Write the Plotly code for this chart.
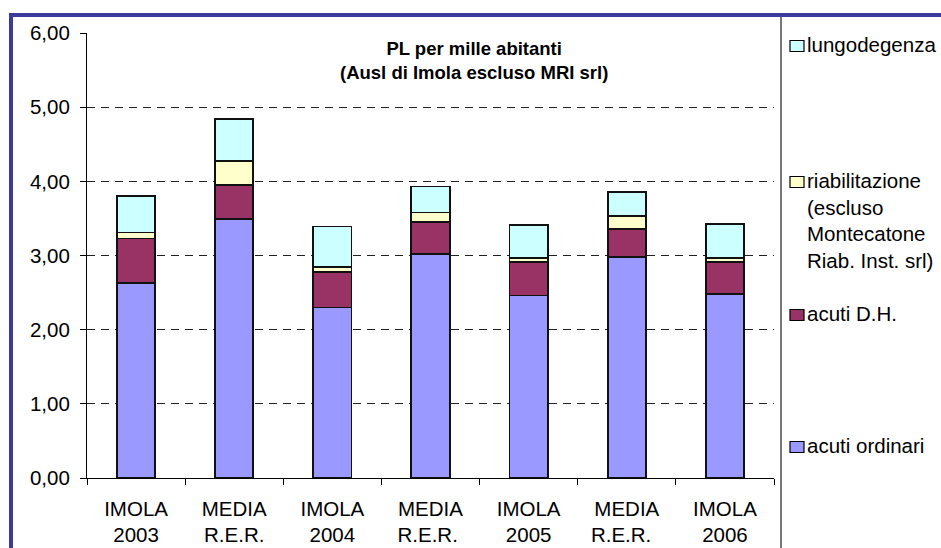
import plotly.graph_objects as go

# Posti letto per mille abitanti, per tipologia
categories = ["IMOLA<br>2003", "MEDIA<br>R.E.R.", "IMOLA<br>2004", "MEDIA<br>R.E.R. ",
              "IMOLA<br>2005", "MEDIA<br>R.E.R.  ", "IMOLA<br>2006"]
acuti_ordinari = [2.63, 3.49, 2.30, 3.02, 2.46, 2.98, 2.48]
acuti_dh = [0.60, 0.46, 0.48, 0.43, 0.45, 0.38, 0.43]
riabilitazione = [0.08, 0.32, 0.07, 0.13, 0.06, 0.17, 0.06]
lungodegenza = [0.49, 0.57, 0.54, 0.35, 0.44, 0.33, 0.46]

series_names = ["acuti ordinari", "acuti D.H.",
                "riabilitazione<br>(escluso<br>Montecatone<br>Riab. Inst. srl)",
                "lungodegenza"]
series_values = [acuti_ordinari, acuti_dh, riabilitazione, lungodegenza]
series_colors = ["#9999FF", "#993366", "#FFFFCC", "#CCFFFF"]

W, H = 941, 548
L, R, T, B = 87, 167, 33, 70
PW, PH = W - L - R, H - T - B
FONT = "Liberation Sans, Arial, sans-serif"
FS = 20.5


def px(x):
    return (x - L) / PW


def py(y):
    return (H - B - y) / PH


fig = go.Figure()
for name, vals, col in zip(series_names, series_values, series_colors):
    fig.add_trace(go.Bar(
        x=categories, y=vals, name=name, width=0.39,
        marker=dict(color=col, line=dict(color="#111111", width=1.8)),
        showlegend=False,
    ))

# legend drawn at the right-hand side, top entry = last series
legend_rows = [46, 182, 315, 447]
annotations = [
    dict(text="<b>PL per mille abitanti<br>(Ausl di Imola escluso MRI srl)</b>",
         xref="paper", yref="paper", x=px(474), y=py(60), showarrow=False,
         font=dict(family=FONT, size=18.5, color="#000000"), align="center",
         xanchor="center", yanchor="middle"),
]
shapes = []
for (name, col), yc in zip(list(zip(series_names, series_colors))[::-1], legend_rows):
    shapes.append(dict(type="rect", xref="paper", yref="paper",
                       x0=px(790), x1=px(804), y0=py(yc - 5.5), y1=py(yc + 5.5),
                       fillcolor=col, line=dict(color="#000000", width=1.2)))
    annotations.append(dict(text=name, xref="paper", yref="paper",
                            x=px(805), y=py(yc - 15), showarrow=False,
                            xanchor="left", yanchor="top", align="left",
                            font=dict(family=FONT, size=FS, color="#000000")))

# separator between chart and legend, outer frame
shapes.append(dict(type="line", xref="paper", yref="paper",
                   x0=px(781), x1=px(781), y0=py(560), y1=py(15),
                   line=dict(color="#4a4a4a", width=1.5)))
shapes.append(dict(type="rect", xref="paper", yref="paper",
                   x0=px(11), x1=px(960), y0=py(570), y1=py(15),
                   line=dict(color="#3b3b9c", width=4), fillcolor="rgba(0,0,0,0)"))

fig.update_layout(
    width=W, height=H,
    margin=dict(l=L, r=R, t=T, b=B, pad=0),
    barmode="stack",
    paper_bgcolor="#FFFFFF", plot_bgcolor="#FFFFFF",
    separators=",.",
    font=dict(family=FONT, size=FS, color="#000000"),
    annotations=annotations, shapes=shapes,
)
fig.update_xaxes(
    type="category", showline=True, linecolor="#000000", linewidth=1.2,
    ticks="outside", tickson="boundaries", ticklen=6, tickcolor="#000000",
    tickwidth=1.2, showgrid=False, tickfont=dict(size=FS),
    ticklabelstandoff=12, automargin=False,
)
fig.update_yaxes(
    range=[0, 6], dtick=1, tickformat=".2f", showline=True,
    linecolor="#000000", linewidth=1.2, ticks="outside", ticklen=6,
    tickcolor="#000000", tickwidth=1.2, showgrid=True, gridcolor="#222222",
    gridwidth=1, griddash="8px,6px", zeroline=False, tickfont=dict(size=FS),
    ticklabelstandoff=6, automargin=False,
)

fig.write_html("out.html")
